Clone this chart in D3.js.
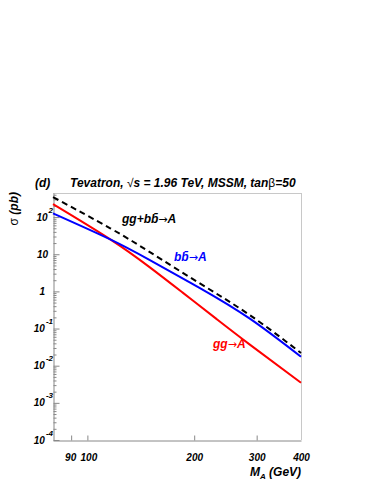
<!DOCTYPE html>
<html><head><meta charset="utf-8">
<script src="https://cdn.jsdelivr.net/npm/d3@7"></script>
<style>
body{margin:0;background:#fff;}
text{font-family:"Liberation Sans",Arial,sans-serif;font-weight:bold;font-style:italic;}
</style></head>
<body><svg id="c" width="382" height="494"></svg>
<script>
// Data
const massBB = [80, 116, 150, 207, 287, 400];
const sigmaBB = [126, 25.1, 6.96, 1.25, 0.185, 0.0174];
const massGG = [80, 116, 150, 186, 231, 287, 400];
const sigmaGG = [223, 25.1, 4.43, 0.91, 0.182, 0.037, 0.00348];
const massSum = [80, 116, 150, 207, 287, 400];
const sigmaSum = [345, 50, 11.4, 1.66, 0.23, 0.022];
const xTicks = [90, 100, 200, 300, 400];
const yDecades = [-4, -3, -2, -1, 0, 1, 2];

const svg = d3.select("#c");
const L = 53, R = 301, T = 193, B = 440;
const x = d3.scaleLog().domain([80, 400]).range([L, R]);
const y = d3.scaleLog().domain([1e-4, 445]).range([B, T]);

// frame
svg.append("line").attr("x1", L).attr("x2", R).attr("y1", T+0.5).attr("y2", T+0.5).attr("stroke", "#c8c8c8");
svg.append("line").attr("x1", R+0.5).attr("x2", R+0.5).attr("y1", T).attr("y2", B).attr("stroke", "#c8c8c8");

// y axis
const majorY = yDecades.map(e => Math.pow(10, e));
const minorY = [];
yDecades.forEach(e => { for (let k = 2; k <= 9; k++) { const v = k * Math.pow(10, e); if (v <= 445) minorY.push(v); } });
const gy = svg.append("g").attr("transform", `translate(${L+0.5},0)`);
gy.call(d3.axisLeft(y).tickValues(majorY).tickSizeInner(-6).tickSizeOuter(0).tickFormat(""));
const gy2 = svg.append("g").attr("transform", `translate(${L+0.5},0)`);
gy2.call(d3.axisLeft(y).tickValues(minorY).tickSizeInner(-3).tickSizeOuter(0).tickFormat(""));
gy2.select(".domain").remove();
svg.selectAll("g .domain, g .tick line").attr("stroke", "#888");

// y tick labels
yDecades.forEach(e => {
  const yy = y(Math.pow(10, e));
  if (e === 0 || e === 1) {
    svg.append("text").attr("x", e === 0 ? 45 : 48).attr("y", yy + 3.5).attr("text-anchor", "end")
      .attr("font-size", 10).text(e === 0 ? "1" : "10");
  } else {
    const t = svg.append("text").attr("x", 53).attr("y", yy + 3.5).attr("text-anchor", "end").attr("font-size", 10);
    t.append("tspan").text("10");
    t.append("tspan").attr("font-size", 8).attr("dy", -8).attr("dx", 1).text(String(e));
  }
});

// x axis
const gx = svg.append("g").attr("transform", `translate(0,${B+0.5})`);
gx.call(d3.axisBottom(x).tickValues(xTicks).tickSizeInner(-5).tickSizeOuter(0).tickPadding(13).tickFormat(d3.format("d")));
gx.selectAll(".domain, .tick line").attr("stroke", "#888");
gx.selectAll(".tick line").filter(d => d === 400).remove();
gx.selectAll("text").attr("font-size", 10).attr("font-family", null).attr("fill", "#000");
gx.selectAll(".tick").filter(d => d === 90).select("text").attr("dx", -1);
gx.selectAll(".tick").filter(d => d === 100).select("text").attr("dx", 1);

// curves
const line = d3.line().x(d => x(d[0])).y(d => y(d[1])).curve(d3.curveNatural);
svg.append("path").datum(d3.zip(massGG, sigmaGG)).attr("d", line).attr("fill", "none").attr("stroke", "#ff0000").attr("stroke-width", 2);
svg.append("path").datum(d3.zip(massBB, sigmaBB)).attr("d", line).attr("fill", "none").attr("stroke", "#0000ff").attr("stroke-width", 2);
svg.append("path").datum(d3.zip(massSum, sigmaSum)).attr("d", line).attr("fill", "none").attr("stroke", "#000").attr("stroke-width", 2).attr("stroke-dasharray", "6,4");

// titles
svg.append("text").attr("x", 35).attr("y", 187).attr("font-size", 12).text("(d)");
const tt = svg.append("text").attr("x", 70).attr("y", 187).attr("font-size", 12);
tt.append("tspan").text("Tevatron, ");
tt.append("tspan").attr("font-style", "normal").attr("font-weight", "normal").text("\u221A");
tt.append("tspan").text("s = 1.96 TeV, MSSM, tan");
tt.append("tspan").attr("font-style", "normal").attr("font-weight", "normal").text("\u03B2");
tt.append("tspan").text("=50");

const xt = svg.append("text").attr("x", 250).attr("y", 476).attr("font-size", 12);
xt.append("tspan").text("M");
xt.append("tspan").attr("font-size", 8).attr("dy", 3).text("A");
xt.append("tspan").attr("dy", -3).text(" (GeV)");

const yt = svg.append("text").attr("transform", "translate(18,192) rotate(-90)").attr("text-anchor", "end").attr("font-size", 12);
yt.append("tspan").attr("font-style", "normal").attr("font-weight", "normal").text("\u03C3");
yt.append("tspan").text(" (pb)");

// curve labels
function arrow(t) {
  t.append("tspan").attr("font-family", "DejaVu Sans").attr("font-style", "normal").attr("font-weight", "normal")
    .attr("font-size", 11).text("\u2192");
}
function bbLabel(xp, yp, pre, color) {
  const t = svg.append("text").attr("x", xp).attr("y", yp).attr("font-size", 12).attr("fill", color);
  t.append("tspan").text(pre + "b");
  t.append("tspan").text("b\u0304");
  arrow(t);
  t.append("tspan").text("A");
}
bbLabel(122, 223, "gg+", "#000");
bbLabel(174, 261, "", "#0000ff");
const gl = svg.append("text").attr("x", 213).attr("y", 348).attr("font-size", 12).attr("fill", "#ff0000");
gl.append("tspan").text("gg");
arrow(gl);
gl.append("tspan").text("A");
</script></body></html>
